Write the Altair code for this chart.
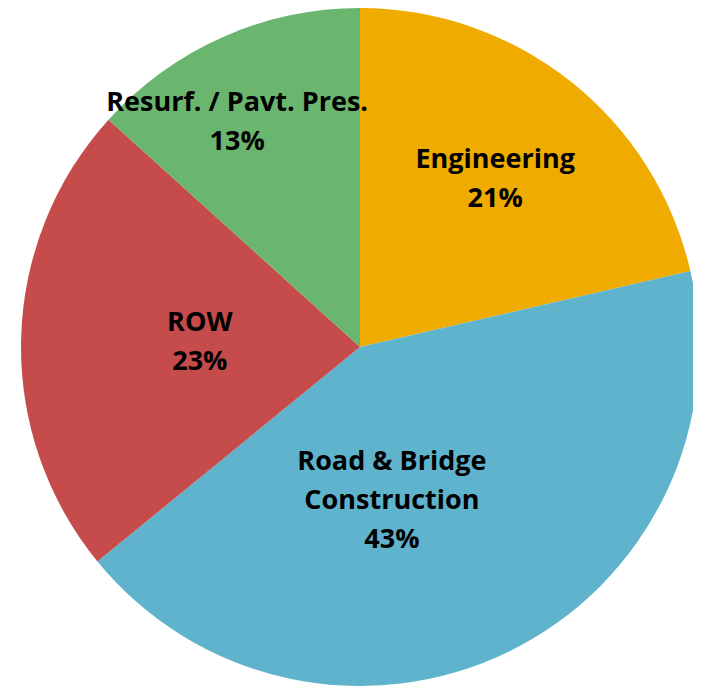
import altair as alt
import pandas as pd

categories = ["Engineering", "Road & Bridge\nConstruction", "ROW", "Resurf. / Pavt. Pres."]
values = [21.4, 42.7, 22.6, 13.3]
pct_labels = ["21%", "43%", "23%", "13%"]
colors = ["#F0AB00", "#5FB3CC", "#C64B4B", "#6BB66E"]

# label placement (style): angular nudge in percent of circle and radius in px (first line)
label_nudge = [-0.75, 2.93, 1.97, -0.78]
label_radius = [231, 119, 162, 273]

total = sum(values)
cum = 0.0
mids = []
for v in values:
    mids.append(cum + v / 2)
    cum += v

df = pd.DataFrame({
    "category": categories,
    "value": values,
    "order": list(range(len(values))),
})

lab = pd.DataFrame({
    "category": categories,
    "text": [c + "\n" + p for c, p in zip(categories, pct_labels)],
    "pos": [(m + n) / total for m, n in zip(mids, label_nudge)],
    "r": label_radius,
})

W, H = 685, 678
CX, CY = 352, 339
R = 339

pie = alt.Chart(df).mark_arc(outerRadius=R).encode(
    theta=alt.Theta("value:Q", stack=True),
    color=alt.Color("category:N", scale=alt.Scale(domain=categories, range=colors), legend=None),
    order=alt.Order("order:Q"),
    x=alt.value(CX),
    y=alt.value(CY),
)

text = alt.Chart(lab).transform_calculate(
    px=f"{CX} + datum.r * sin(datum.pos * 2 * PI)",
    py=f"{CY} - datum.r * cos(datum.pos * 2 * PI)",
).mark_text(
    font="Open Sans", fontSize=27, fontWeight="bold", color="#000000",
    lineBreak="\n", lineHeight=39, align="center", baseline="middle",
).encode(
    x=alt.X("px:Q", scale=None),
    y=alt.Y("py:Q", scale=None),
    text="text:N",
)

chart = alt.layer(pie, text).properties(
    width=W, height=H, padding=0, autosize=alt.AutoSizeParams(type="none")
).configure_view(stroke=None)

chart.save("out.html", embed_options={"renderer": "svg", "actions": False})
